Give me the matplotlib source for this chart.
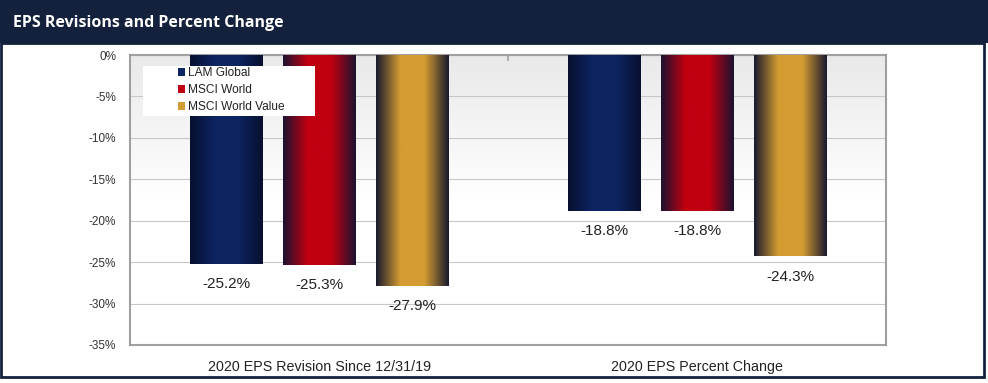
import numpy as np
import matplotlib
matplotlib.use("Agg")
import matplotlib.pyplot as plt
from matplotlib.colors import LinearSegmentedColormap
from matplotlib.patches import Patch, Rectangle

categories = ["2020 EPS Revision Since 12/31/19", "2020 EPS Percent Change"]
series_names = ["LAM Global", "MSCI World", "MSCI World Value"]
lam_global = [-25.2, -18.8]
msci_world = [-25.3, -18.8]
msci_value = [-27.9, -24.3]
yticks = [0, -5, -10, -15, -20, -25, -30, -35]
ytick_labels = ["0%", "-5%", "-10%", "-15%", "-20%", "-25%", "-30%", "-35%"]

series = [lam_global, msci_world, msci_value]
centers = ["#0d2462", "#c00010", "#d49c32"]
edges = ["#07102e", "#1c1230", "#1a1a2e"]

NAVY = "#13213d"
fig = plt.figure(figsize=(9.88, 3.83), dpi=100)
fig.patch.set_facecolor("white")

# banner and frame
fig.add_artist(Rectangle((0, 1 - 43 / 383), 1, 43 / 383, transform=fig.transFigure,
                         facecolor=NAVY, edgecolor="none", zorder=0))
fig.add_artist(Rectangle((1 / 988, 6 / 383), 983 / 988, 1 - 6 / 383 - 43 / 383,
                         transform=fig.transFigure, facecolor="none",
                         edgecolor=NAVY, linewidth=2, zorder=0))
fig.text(13 / 988, 1 - 23 / 383, "EPS Revisions and Percent Change", color="white",
         fontsize=11.5, fontweight="bold", family="Open Sans", va="center", ha="left")

ax = fig.add_axes([130 / 988, 1 - 345 / 383, 756 / 988, 290 / 383])
ax.set_xlim(-0.5, 1.5)
ax.set_ylim(-35, 0)

# plot background gradient
grad = np.linspace(0, 1, 256).reshape(-1, 1)
bgcmap = LinearSegmentedColormap.from_list("bg", ["#ffffff", "#ffffff", "#e9e9e9"])
ax.imshow(grad, extent=[0, 1, 0, 1], transform=ax.transAxes, aspect="auto",
          cmap=bgcmap, origin="lower", zorder=0)
ax.set_facecolor("white")

ax.set_yticks(yticks)
ax.set_yticklabels(ytick_labels)
ax.yaxis.grid(True, color="#c8c8c8", linewidth=0.8, zorder=1)
ax.set_axisbelow(True)
for s in ax.spines.values():
    s.set_color("#a0a0a0")
    s.set_linewidth(1.5)
ax.tick_params(axis="y", length=0, labelsize=8.5, labelcolor="#333333", pad=10)
ax.set_xticks([0, 1])
ax.set_xticklabels(categories)
ax.tick_params(axis="x", length=0, labelsize=10.3, labelcolor="#222222", pad=11)
# separator tick at top between categories
ax.plot([0.5, 0.5], [0, -0.6], color="#a0a0a0", linewidth=1.2, zorder=2, clip_on=False)

x = np.arange(len(categories))
width = 0.193
offset = 0.246
prof = np.linspace(0, 1, 200)
for i, (vals, c, e) in enumerate(zip(series, centers, edges)):
    bars = ax.bar(x + (i - 1) * offset, vals, width=width, color="none",
                  edgecolor="none", zorder=3)
    cmap = LinearSegmentedColormap.from_list("b%d" % i, [e, c, c, e], N=256)
    for b, v in zip(bars, vals):
        x0, y0 = b.get_x(), b.get_y()
        w, h = b.get_width(), b.get_height()
        im = ax.imshow(prof.reshape(1, -1), extent=[x0, x0 + w, y0 + h, y0],
                       aspect="auto", cmap=cmap, zorder=3, interpolation="bilinear")
        im.set_clip_path(b)
        ax.text(x0 + w / 2, v - 1.6, f"{v:.1f}%", ha="center", va="top",
                fontsize=11, color="#222222", family="Liberation Sans", zorder=4)

ax.set_xlim(-0.5, 1.5)
ax.set_ylim(-35, 0)

# legend box
ax.add_patch(Rectangle((13 / 756, 1 - 61 / 290), 172 / 756, 50 / 290,
                       transform=ax.transAxes, facecolor="white", edgecolor="none",
                       zorder=5))
handles = [Patch(facecolor=c, edgecolor="none") for c in centers]
leg = ax.legend(handles, series_names, loc="upper left",
                bbox_to_anchor=(48 / 756, 1 - 12 / 290), frameon=False,
                handlelength=0.55, handleheight=0.6, handletextpad=0.25,
                labelspacing=0.42, borderpad=0, borderaxespad=0,
                prop={"family": "Liberation Sans", "size": 8.6})
for t in leg.get_texts():
    t.set_color("#222222")
leg.set_zorder(6)

for lbl in ax.get_xticklabels() + ax.get_yticklabels():
    lbl.set_family("Liberation Sans")

fig.savefig("out.png", dpi=100)
